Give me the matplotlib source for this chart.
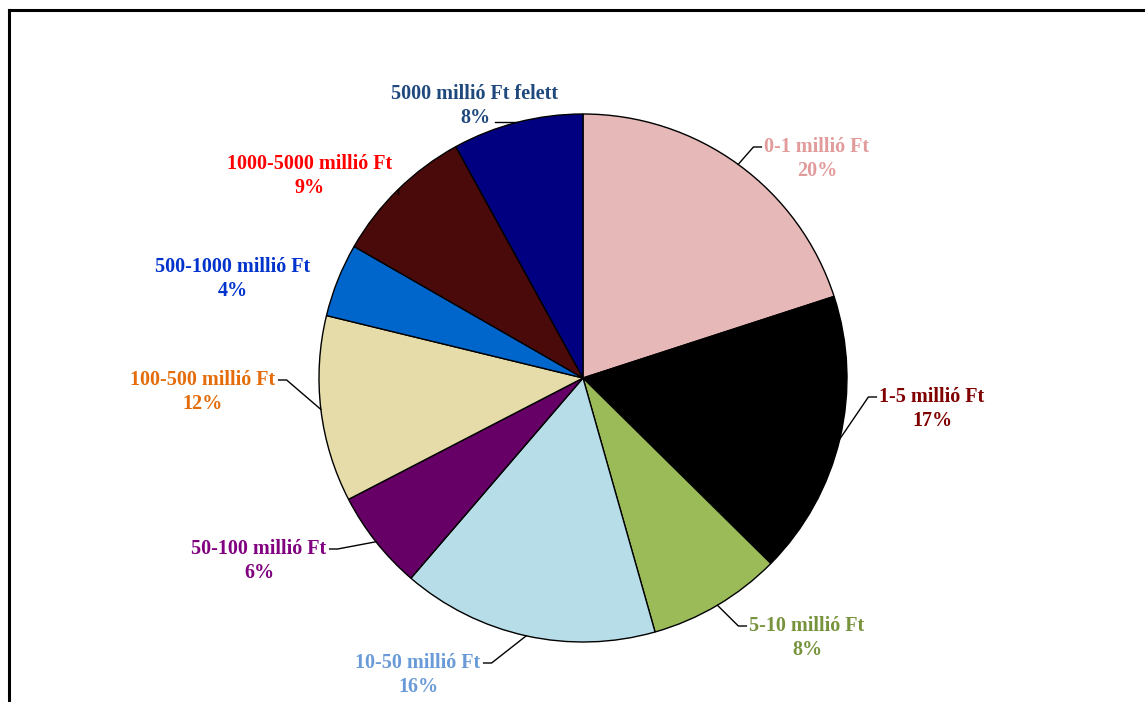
import numpy as np
import matplotlib.pyplot as plt

# Data (share in %, clockwise from 12 o'clock)
categories = ['0-1 millió Ft', '1-5 millió Ft', '5-10 millió Ft', '10-50 millió Ft',
              '50-100 millió Ft', '100-500 millió Ft', '500-1000 millió Ft',
              '1000-5000 millió Ft', '5000 millió Ft felett']
shares = [20.0, 17.4, 8.2, 15.7, 6.1, 11.4, 4.5, 8.7, 8.0]
pct_labels = ['20%', '17%', '8%', '16%', '6%', '12%', '4%', '9%', '8%']

wedge_colors = ['#E6B9B8', '#000000', '#9BBB59', '#B7DEE8', '#660066',
                '#E6DCAA', '#0066CC', '#4B0A0A', '#000080']
text_colors = ['#E29B9B', '#800000', '#77933C', '#6A9BD8', '#800080',
               '#E46C0A', '#0033CC', '#FF0000', '#1F497D']

# label layout (pixel coords of label block centre, from top-left) and leader side
label_pos = [(817, 159), (932, 409), (807, 638), (418, 675), (259, 561),
             (203, 392), (233, 279), (310, 176), (475, 106)]
leader_side = ['left', 'left', 'left', 'right', 'right', 'right', None, 'bottom', 'pct']

W, H = 1145, 702
cx, cy, r = 583, 378, 264

fig = plt.figure(figsize=(W / 100, H / 100), dpi=100)
ax = fig.add_axes([0, 0, 1, 1])

# pie drawn in screen coords (y down), so counterclock=True gives clockwise on screen
wedges, _ = ax.pie(shares, colors=wedge_colors, startangle=-90, counterclock=True,
                   center=(cx, cy), radius=r, frame=True,
                   wedgeprops=dict(edgecolor='black', linewidth=1.0))
ax.set_xlim(0, W)
ax.set_ylim(H, 0)
ax.set_aspect('equal')
ax.axis('off')

texts = []
for i, w in enumerate(wedges):
    tx, ty = label_pos[i]
    t = ax.text(tx, ty, categories[i] + '\n' + pct_labels[i], ha='center', va='center',
                fontsize=14.5, fontweight='bold', family='Liberation Serif',
                color=text_colors[i], linespacing=1.22)
    texts.append(t)

fig.canvas.draw()
renderer = fig.canvas.get_renderer()
inv = ax.transData.inverted()

for i, w in enumerate(wedges):
    side = leader_side[i]
    if side is None:
        continue
    tx, ty = label_pos[i]
    mid = np.deg2rad((w.theta1 + w.theta2) / 2)
    ex, ey = cx + r * np.cos(mid), cy + r * np.sin(mid)
    bb = texts[i].get_window_extent(renderer)
    (x0, y1), (x1, y0) = inv.transform([(bb.x0, bb.y0), (bb.x1, bb.y1)])
    line_y = ty - 12
    if side == 'left':
        hx = x0 - 3
        pts = [(ex, ey), (hx - 8, line_y), (hx, line_y)]
    elif side == 'right':
        hx = x1 + 3
        pts = [(ex, ey), (hx + 8, line_y), (hx, line_y)]
    elif side == 'pct':
        pts = [(ex, ey), (tx + 20, ey)]
    else:
        pts = [(ex, ey), (ex, y1 - 4)]
    xs, ys = zip(*pts)
    ax.plot(xs, ys, color='black', lw=1.0)

# frame lines on top and left as in the reference
ax.plot([9, W], [10, 10], color='black', lw=2.2, clip_on=False)
ax.plot([9, 9], [10, H], color='black', lw=2.2, clip_on=False)

fig.savefig('out.png', dpi=100)
